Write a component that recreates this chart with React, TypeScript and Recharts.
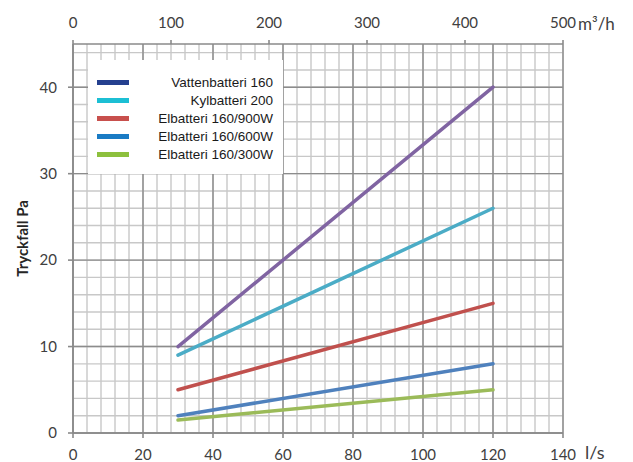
import React from "react";
import { LineChart, Line, XAxis, YAxis, CartesianGrid, Legend } from "recharts";

// flow (l/s) at the two ends of each curve
const flowLs = [30, 120];

const seriesNames = [
  "Vattenbatteri 160",
  "Kylbatteri 200",
  "Elbatteri 160/900W",
  "Elbatteri 160/600W",
  "Elbatteri 160/300W",
];
const vattenbatteri160 = [10, 40];
const kylbatteri200 = [9, 26];
const elbatteri900 = [5, 15];
const elbatteri600 = [2, 8];
const elbatteri300 = [1.5, 5];

const lineColors = ["#8064a2", "#4bacc6", "#c0504d", "#4f81bd", "#9bbb59"];
const legendColors = ["#25408f", "#1cbfd4", "#c8504d", "#1a7bc4", "#8dc03d"];

const xTicks = [0, 20, 40, 60, 80, 100, 120, 140];
const topTicks = [0, 100, 200, 300, 400, 500]; // m³/h
const yTicks = [0, 10, 20, 30, 40];

// top axis spans the same width as 0..140 l/s
const topScale = 140 / 500;

const minorX: number[] = [];
for (let v = 0; v <= 140; v += 4) minorX.push(v);
const minorY: number[] = [];
for (let v = 0; v <= 44; v += 2) minorY.push(v);

const keys = ["s0", "s1", "s2", "s3", "s4"];
const allSeries = [vattenbatteri160, kylbatteri200, elbatteri900, elbatteri600, elbatteri300];

const data = flowLs.map((x, i) => {
  const row: any = { x };
  allSeries.forEach((s, j) => {
    row[keys[j]] = s[i];
  });
  return row;
});

const tickStyle = { fontSize: 15, fill: "#404040", fontFamily: "Lato" };
const axisColor = "#8a8a8a";

const LegendBox = () => (
  <div
    style={{
      background: "#fff",
      width: 195,
      height: 114,
      boxSizing: "border-box",
      paddingTop: 13,
      fontFamily: "Liberation Sans",
      fontSize: 13.5,
      color: "#1a1a1a",
    }}
  >
    {seriesNames.map((name, i) => (
      <div
        key={name}
        style={{ display: "flex", alignItems: "center", height: 18, position: "relative" }}
      >
        <div
          style={{
            position: "absolute",
            left: 9,
            width: 32,
            height: 5,
            background: legendColors[i],
          }}
        />
        <div style={{ position: "absolute", right: 10, whiteSpace: "nowrap" }}>{name}</div>
      </div>
    ))}
  </div>
);

export default function App() {
  return (
    <div style={{ position: "absolute", left: 0, top: 0, width: 633, height: 462, background: "#fff" }}>
      <LineChart
        width={633}
        height={462}
        data={data}
        margin={{ top: 14, right: 70, bottom: 0, left: 0 }}
      >
        <CartesianGrid
          verticalValues={minorX}
          horizontalValues={minorY}
          stroke="#c8c8c8"
          strokeWidth={1.4}
          syncWithTicks={false}
        />
        <CartesianGrid
          verticalValues={xTicks}
          horizontalValues={yTicks}
          stroke="#8c8c8c"
          strokeWidth={1.4}
          syncWithTicks={false}
        />
        <XAxis
          dataKey="x"
          type="number"
          domain={[0, 140]}
          ticks={xTicks}
          height={29}
          tickSize={5}
          tickMargin={11}
          tick={tickStyle}
          stroke={axisColor}
          strokeWidth={1.6}
          interval={0}
          label={{
            value: "l/s",
            position: "right",
            offset: 22,
            dy: 5,
            style: { fontSize: 18, fill: "#404040", fontFamily: "Lato" },
          }}
        />
        <XAxis
          xAxisId="top"
          dataKey="x"
          orientation="top"
          type="number"
          domain={[0, 140]}
          ticks={topTicks.map((v) => v * topScale)}
          tickFormatter={(v: number) => String(Math.round(v / topScale))}
          height={30}
          tickSize={4}
          tickMargin={12}
          tick={tickStyle}
          stroke={axisColor}
          strokeWidth={1.6}
          interval={0}
          label={{
            value: "m³/h",
            position: "right",
            offset: 15,
            dy: -5,
            style: { fontSize: 17, fill: "#404040", fontFamily: "Lato" },
          }}
        />
        <YAxis
          type="number"
          domain={[0, 45]}
          ticks={yTicks}
          width={73}
          tickSize={5}
          tickMargin={11}
          tick={tickStyle}
          stroke={axisColor}
          strokeWidth={1.6}
          interval={0}
          label={{
            value: "Tryckfall Pa",
            angle: -90,
            position: "center",
            dx: -14,
            style: { fontSize: 15, fontWeight: "bold", fill: "#262626", fontFamily: "Lato" },
          }}
        />
        <Legend
          layout="vertical"
          align="center"
          verticalAlign="middle"
          content={() => <LegendBox />}
          wrapperStyle={{ position: "absolute", left: 88, top: 60, width: 195, height: 114 }}
        />
        {keys.map((k, i) => (
          <Line
            key={k}
            dataKey={k}
            name={seriesNames[i]}
            stroke={lineColors[i]}
            strokeWidth={3.5}
            strokeLinecap="round"
            dot={false}
            activeDot={false}
            isAnimationActive={false}
          />
        ))}
      </LineChart>
    </div>
  );
}
